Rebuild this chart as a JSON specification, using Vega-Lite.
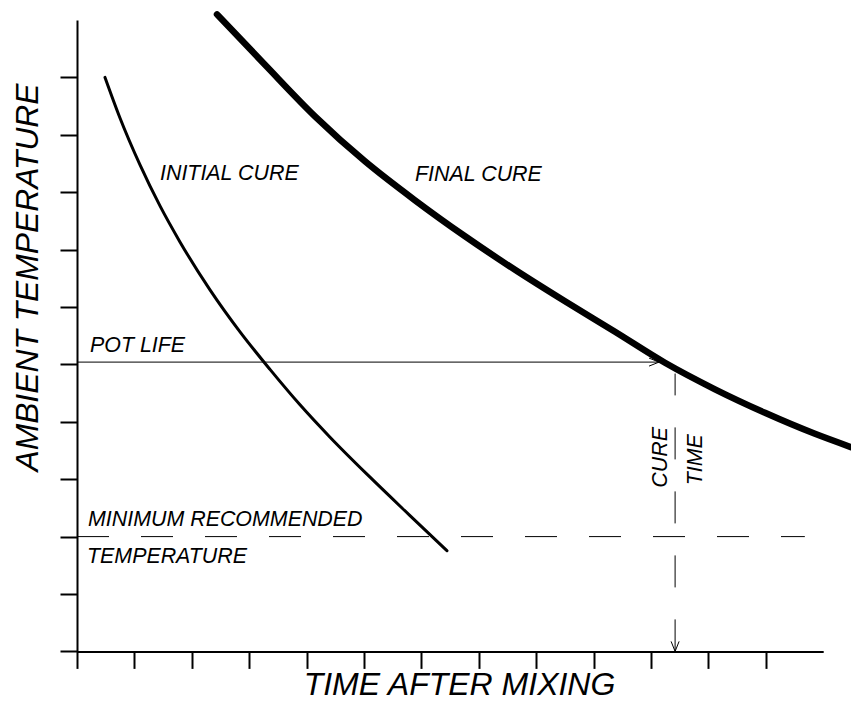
{
  "$schema": "https://vega.github.io/schema/vega-lite/v6.json",
  "width": 746.2,
  "height": 631.4,
  "autosize": "none",
  "padding": {"left": 77, "top": 20, "right": 27.8, "bottom": 49.6},
  "background": "white",
  "config": {
    "view": {"stroke": null},
    "text": {"font": "Liberation Sans", "fontStyle": "italic", "fontSize": 21.4, "color": "black"}
  },
  "encoding": {
    "x": {
      "field": "x", "type": "quantitative",
      "scale": {"domain": [0, 13], "nice": false, "zero": false},
      "axis": {
        "values": [0,1,2,3,4,5,6,7,8,9,10,11,12],
        "labels": false, "grid": false,
        "tickSize": 17, "tickWidth": 2, "tickColor": "black",
        "domainWidth": 2, "domainColor": "black",
        "title": "TIME AFTER MIXING",
        "titleFont": "Liberation Sans", "titleFontStyle": "italic", "titleFontWeight": "normal",
        "titleFontSize": 32, "titleColor": "black",
        "titleX": 382, "titleY": 43.5, "titleBaseline": "alphabetic", "titleAlign": "center"
      }
    },
    "y": {
      "field": "y", "type": "quantitative",
      "scale": {"domain": [0, 11], "nice": false, "zero": false},
      "axis": {
        "values": [0,1,2,3,4,5,6,7,8,9,10],
        "labels": false, "grid": false,
        "tickSize": 17, "tickWidth": 2, "tickColor": "black",
        "domainWidth": 2, "domainColor": "black",
        "title": "AMBIENT TEMPERATURE",
        "titleFont": "Liberation Sans", "titleFontStyle": "italic", "titleFontWeight": "normal",
        "titleFontSize": 31.8, "titleColor": "black",
        "titleX": -40, "titleY": 257, "titleBaseline": "alphabetic", "titleAlign": "center", "titleAngle": -90
      }
    }
  },
  "layer": [
    {
      "data": {"values": [
        {"x": 0.488, "y": 10.0},
        {"x": 0.749, "y": 9.294},
        {"x": 1.098, "y": 8.476},
        {"x": 1.446, "y": 7.761},
        {"x": 1.794, "y": 7.134},
        {"x": 2.317, "y": 6.298},
        {"x": 2.840, "y": 5.566},
        {"x": 3.362, "y": 4.913},
        {"x": 3.885, "y": 4.296},
        {"x": 4.408, "y": 3.732},
        {"x": 5.105, "y": 3.035},
        {"x": 5.801, "y": 2.366},
        {"x": 6.446, "y": 1.753}
      ]},
      "mark": {"type": "line", "color": "black", "strokeWidth": 3, "strokeCap": "round", "interpolate": "monotone"}
    },
    {
      "data": {"values": [
        {"x": 2.439, "y": 11.098},
        {"x": 3.275, "y": 10.220},
        {"x": 4.146, "y": 9.322},
        {"x": 5.017, "y": 8.538},
        {"x": 5.889, "y": 7.859},
        {"x": 6.760, "y": 7.232},
        {"x": 7.631, "y": 6.648},
        {"x": 8.502, "y": 6.099},
        {"x": 9.373, "y": 5.568},
        {"x": 10.244, "y": 5.028},
        {"x": 11.115, "y": 4.566},
        {"x": 11.986, "y": 4.157},
        {"x": 12.857, "y": 3.791},
        {"x": 13.484, "y": 3.559}
      ]},
      "mark": {"type": "line", "color": "black", "strokeWidth": 6.5, "strokeCap": "round", "interpolate": "monotone"}
    },
    {
      "data": {"values": [{"x": 0, "x2": 10.14, "y": 5.04}]},
      "mark": {"type": "rule", "color": "black", "strokeWidth": 1},
      "encoding": {"x2": {"field": "x2"}}
    },
    {
      "data": {"values": [{"x": 0, "x2": 12.68, "y": 2.0}]},
      "mark": {"type": "rule", "color": "black", "strokeWidth": 1, "strokeDash": [32, 32]},
      "encoding": {"x2": {"field": "x2"}}
    },
    {
      "data": {"values": [{"x": 10.42, "y": 0, "y2": 4.84}]},
      "mark": {"type": "rule", "color": "black", "strokeWidth": 1, "strokeDash": [32, 32]},
      "encoding": {"y2": {"field": "y2"}}
    },
    {
      "data": {"values": [{"x": 10.14, "y": 5.04}]},
      "mark": {"type": "point", "shape": "M-2,-0.8L0,0L-2,0.8", "size": 100, "filled": false, "stroke": "black", "strokeWidth": 1, "opacity": 1}
    },
    {
      "data": {"values": [{"x": 10.42, "y": 0}]},
      "mark": {"type": "point", "shape": "M-0.8,-2L0,0L0.8,-2", "size": 100, "filled": false, "stroke": "black", "strokeWidth": 1, "opacity": 1}
    },
    {
      "data": {"values": [
        {"x": 1.446, "y": 8.22, "label": "INITIAL CURE"},
        {"x": 5.889, "y": 8.19, "label": "FINAL CURE"},
        {"x": 0.226, "y": 5.21, "label": "POT LIFE"},
        {"x": 0.192, "y": 2.18, "label": "MINIMUM RECOMMENDED"},
        {"x": 0.174, "y": 1.54, "label": "TEMPERATURE"}
      ]},
      "mark": {"type": "text", "align": "left", "baseline": "alphabetic"},
      "encoding": {"text": {"field": "label"}}
    },
    {
      "data": {"values": [
        {"x": 10.28, "y": 3.38, "label": "CURE"},
        {"x": 10.89, "y": 3.34, "label": "TIME"}
      ]},
      "mark": {"type": "text", "align": "center", "baseline": "alphabetic", "angle": 270},
      "encoding": {"text": {"field": "label"}}
    }
  ]
}
